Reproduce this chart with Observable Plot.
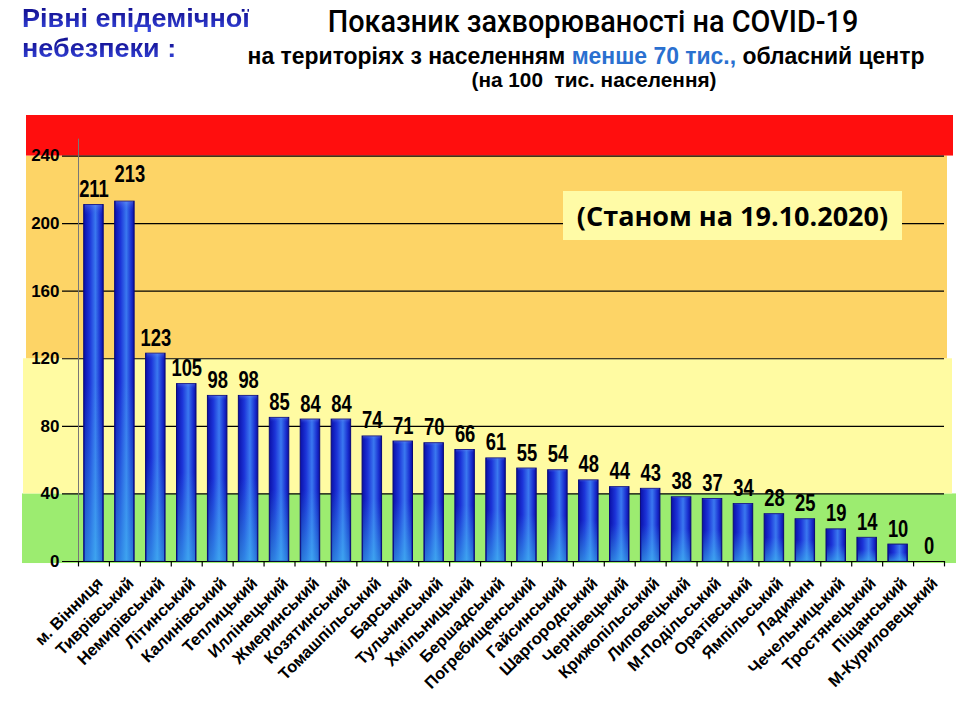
<!DOCTYPE html>
<html>
<head>
<meta charset="utf-8">
<script src="https://cdn.jsdelivr.net/npm/d3@7"></script>
<script src="https://cdn.jsdelivr.net/npm/@observablehq/plot@0.6"></script>
<style>
  body { margin:0; width:960px; height:720px; position:relative; background:#fff; overflow:hidden; font-family: "Liberation Sans", Arial, sans-serif; }
  .abs { position:absolute; white-space:nowrap; }
  .lt { left:22px; font-family:"Liberation Sans",Arial,sans-serif; font-weight:bold; font-size:26.5px; line-height:30px; height:30px;
    transform:scaleX(1.02); transform-origin:0 0;
    background: linear-gradient(180deg, #10108c 0px, #18189e 11px, #3a4ee6 30px);
    -webkit-background-clip:text; background-clip:text; color:transparent; }
  #lt1 { top:3px; }
  #lt2 { top:33px; }
  #title { left:593px; top:3px; font-family:Roboto,sans-serif; font-weight:500; font-size:31px; color:#000;
    transform:translateX(-50%) scaleX(0.93); }
  #sub1 { left:586px; top:42px; font-family:"Liberation Sans",Arial,sans-serif; font-weight:bold; font-size:24px; color:#000;
    transform:translateX(-50%) scaleX(0.955); }
  #sub1 span { color:#2a70d0; }
  #sub2 { left:594px; top:68px; font-family:"Liberation Sans",Arial,sans-serif; font-weight:bold; font-size:21px; color:#000;
    transform:translateX(-50%) scaleX(0.99); }
  #stamp { left:563px; top:191px; width:339px; height:49px; background:#fffba6; font-family:"Open Sans",sans-serif; font-weight:bold; font-size:27px; line-height:49px; text-align:center; color:#000; }
  #chart { position:absolute; left:0; top:110px; }
</style>
</head>
<body>
<div id="chart"></div>
<div class="abs lt" id="lt1">Рівні епідемічної</div>
<div class="abs lt" id="lt2">небезпеки :</div>
<div class="abs" id="title">Показник захворюваності на COVID-19</div>
<div class="abs" id="sub1">на територіях з населенням <span>менше 70 тис.,</span> обласний центр</div>
<div class="abs" id="sub2">(на 100&nbsp; тис. населення)</div>
<div class="abs" id="stamp">(Станом на 19.10.2020)</div>
<script>
const districts = ["м. Вінниця","Тиврівський","Немирівський","Літинський","Калинівський","Теплицький","Иллінецький","Жмеринський","Козятинський","Томашпільський","Барський","Тульчинський","Хмільницький","Бершадський","Погребищенський","Гайсинський","Шаргородський","Чернівецький","Крижопільський","Липовецький","М-Подільський","Оратівський","Ямпільський","Ладижин","Чечельницький","Тростянецький","Піщанський","М-Куриловецький"];
const values = [211,213,123,105,98,98,85,84,84,74,71,70,66,61,55,54,48,44,43,38,37,34,28,25,19,14,10,0];
const yTicks = [0,40,80,120,160,200,240];
const bandLow = [0,40,120,240];
const bandHigh = [40,120,240,264];
const bandColors = ["#9cec70","#fffba2","#fdd466","#ff0e0e"];

const data = districts.map((name, i) => ({name, value: values[i]}));
// a label that is only slightly higher than its left neighbour's is lifted so the two do not collide
const lifted = (d, i) => i > 0 && d.value > values[i - 1] && d.value - values[i - 1] < 10;
const dataNormal = data.filter((d, i) => !lifted(d, i));
const dataLifted = data.filter((d, i) => lifted(d, i));

const W = 960, H = 610, mL = 78, mR = 16, mT = 5, mB = 159;
const step = (W - mL - mR) / districts.length;

const bandInsets = [[-56,-12],[-55,-8],[-52,-3],[-52,-9]];
const bandMarks = bandLow.map((lo, i) => Plot.rect([{lo: i === 0 ? lo - 1.2 : lo, hi: bandHigh[i]}], {
  y1: "lo", y2: "hi", fill: bandColors[i],
  insetLeft: bandInsets[i][0], insetRight: bandInsets[i][1]
}));

const valueStyle = {x: "name", y: "value", text: d => String(d.value), lineAnchor: "bottom",
  fontSize: 23, fontWeight: "bold", fill: "#000", fontFamily: "'Liberation Sans',Arial,sans-serif"};

const plot = Plot.plot({
  width: W, height: H,
  marginLeft: mL, marginRight: mR, marginTop: mT, marginBottom: mB,
  style: {background: "transparent", overflow: "visible"},
  x: {domain: districts, paddingInner: 0.37, paddingOuter: 0.185, round: false, axis: null},
  y: {domain: [0, 264], axis: null},
  marks: [
    ...bandMarks,
    Plot.ruleY(yTicks, {stroke: "#000", strokeWidth: 1.2, insetLeft: -16}),
    Plot.ruleX([districts[0]], {y1: 0, y2: 250, dx: -step / 2, stroke: "#777", strokeWidth: 1}),
    Plot.ruleX(districts, {y1: 0, y2: -3.2, dx: -step / 2, stroke: "#000", strokeWidth: 1.2}),
    Plot.ruleX([districts[districts.length - 1]], {y1: 0, y2: -3.2, dx: step / 2, stroke: "#000", strokeWidth: 1.2}),
    Plot.barY(data, {x: "name", y: "value", fill: "url(#barH)", stroke: "#0a0a78", strokeWidth: 1}),
    Plot.barY(data, {x: "name", y: "value", fill: "url(#barV)", insetLeft: 1, insetRight: 1}),
    Plot.text(dataNormal, {...valueStyle, dy: -8}),
    Plot.text(dataLifted, {...valueStyle, dy: -20, dx: 5}),
    Plot.axisY(yTicks, {tickSize: 0, tickPadding: 19, fontSize: 17, fontWeight: "bold", label: null,
      fontFamily: "'Liberation Sans',Arial,sans-serif", fill: "#000"}),
    Plot.text(districts, {x: d => d, y: 0, text: d => d, rotate: -45, textAnchor: "end", lineAnchor: "middle",
      dx: 6, dy: 19, fontSize: 16.5, fontWeight: "bold", fill: "#000",
      fontFamily: "'Liberation Sans',Arial,sans-serif"})
  ]
});

const defs = `<defs>
<linearGradient id="barH" x1="0" x2="1" y1="0" y2="0">
  <stop offset="0" stop-color="#0a10a8"/>
  <stop offset="0.3" stop-color="#1c34d8"/>
  <stop offset="0.6" stop-color="#3a78f0"/>
  <stop offset="0.85" stop-color="#1a30d0"/>
  <stop offset="1" stop-color="#0a10a0"/>
</linearGradient>
<linearGradient id="barV" x1="0" x2="0" y1="0" y2="1">
  <stop offset="0" stop-color="#8aa8ff" stop-opacity="0.35"/>
  <stop offset="0.03" stop-color="#3050e0" stop-opacity="0"/>
  <stop offset="0.5" stop-color="#40c0f0" stop-opacity="0"/>
  <stop offset="1" stop-color="#40c8f0" stop-opacity="0.55"/>
</linearGradient>
</defs>`;
plot.insertAdjacentHTML("afterbegin", defs);
// condense the value labels horizontally (narrow bold face): the first two text marks
const textGroups = plot.querySelectorAll('g[aria-label="text"]');
[textGroups[0], textGroups[1]].forEach(g => {
  if (!g) return;
  g.querySelectorAll("text").forEach(t => {
    const tr = t.getAttribute("transform");
    if (tr) {
      t.setAttribute("transform", tr + " scale(0.8,1)");
    } else {
      const x = +t.getAttribute("x") || 0, y = +t.getAttribute("y") || 0;
      t.removeAttribute("x"); t.removeAttribute("y");
      t.setAttribute("transform", `translate(${x},${y}) scale(0.8,1)`);
    }
  });
});
document.getElementById("chart").appendChild(plot);
</script>
</body>
</html>
